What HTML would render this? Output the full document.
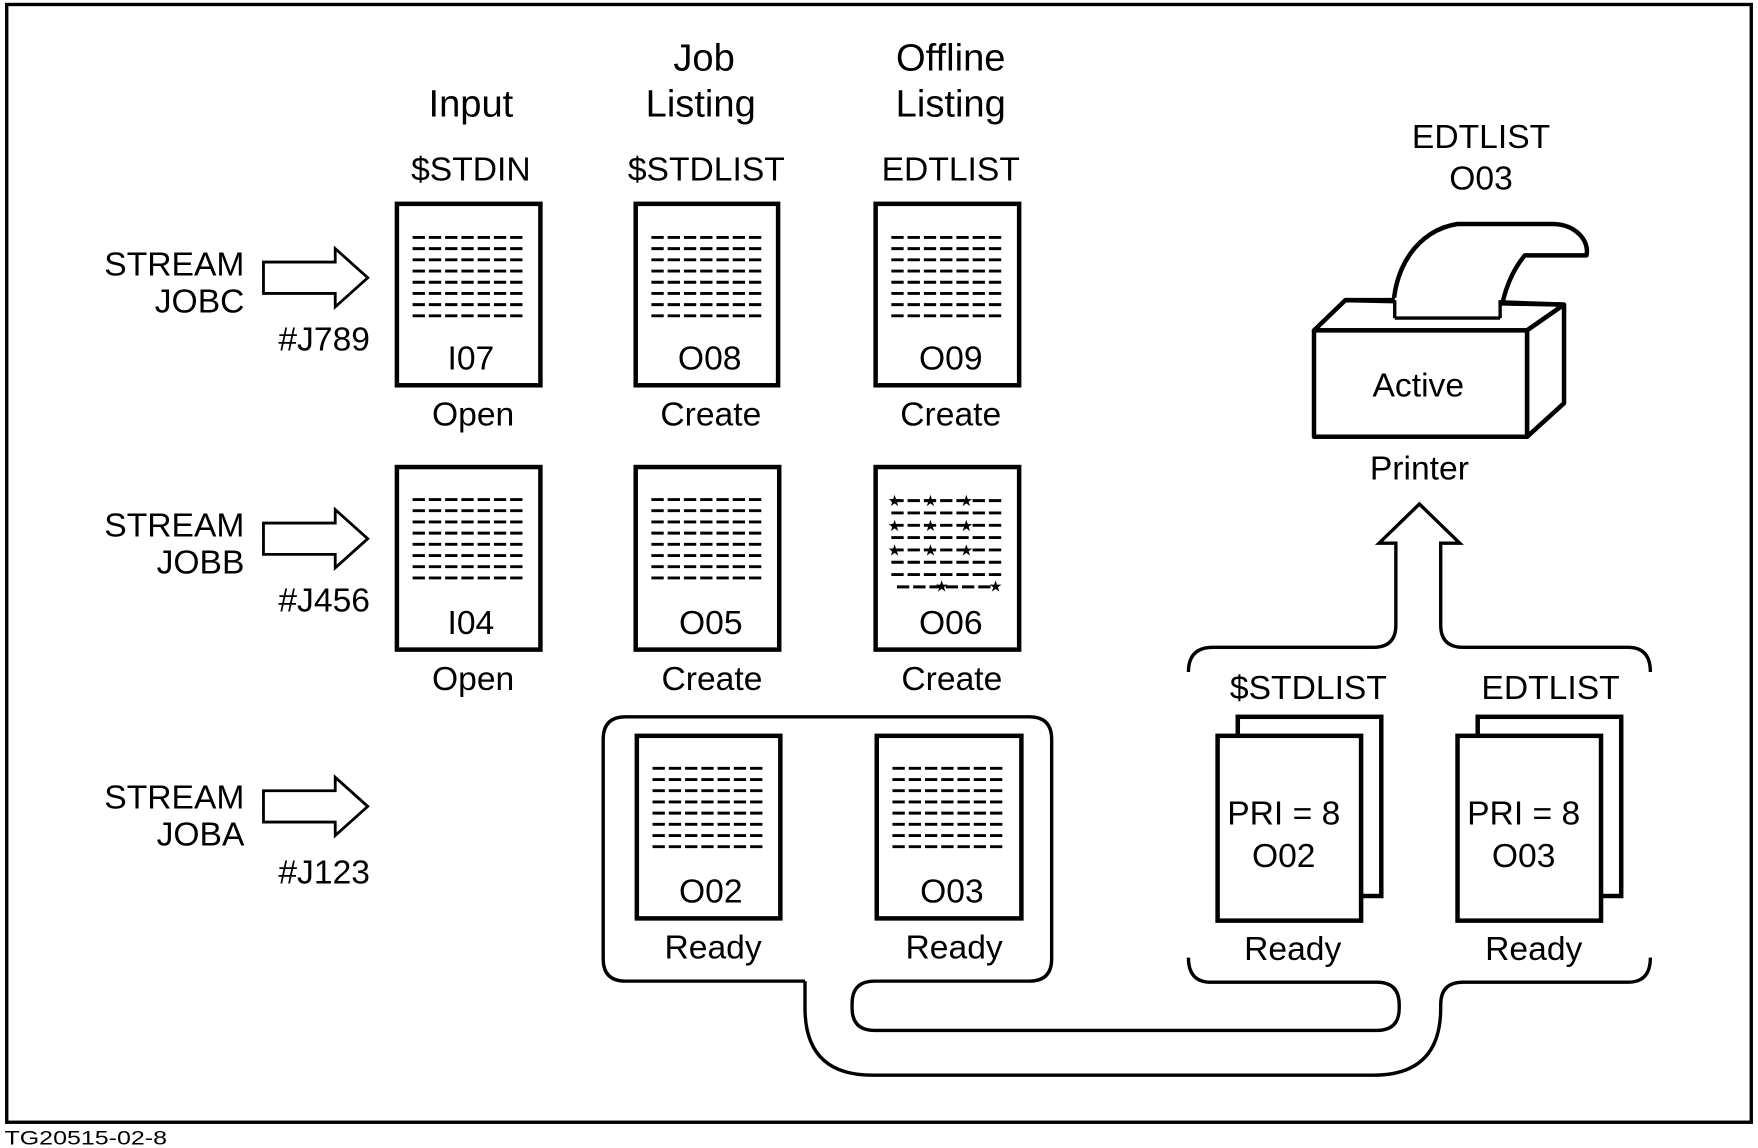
<!DOCTYPE html>
<html><head><meta charset="utf-8"><style>
html,body{margin:0;padding:0;background:#fff;}
svg{display:block;}
text{font-family:"Liberation Sans",Arial,sans-serif;fill:#000;}
</style></head><body>
<svg width="1758" height="1148" viewBox="0 0 1568 1025" preserveAspectRatio="none" xmlns="http://www.w3.org/2000/svg">
<defs>
<g id="lines" stroke="#000" stroke-width="2.6" stroke-dasharray="11,3.5">
<line x1="14" y1="30" x2="114" y2="30"/><line x1="14" y1="40" x2="114" y2="40"/>
<line x1="14" y1="50" x2="114" y2="50"/><line x1="14" y1="60" x2="114" y2="60"/>
<line x1="14" y1="70" x2="114" y2="70"/><line x1="14" y1="80" x2="114" y2="80"/>
<line x1="14" y1="90" x2="114" y2="90"/><line x1="14" y1="100" x2="114" y2="100"/>
</g>
<path id="rarrow" d="M0,-14 H64 V-26 L93,0 L64,26 V14 H0 Z" fill="#fff" stroke="#000" stroke-width="2.5"/>
</defs>
<rect x="6" y="4" width="1556" height="998" fill="none" stroke="#000" stroke-width="3"/>
<text x="4" y="1022" font-size="17" textLength="145" lengthAdjust="spacingAndGlyphs">TG20515-02-8</text>

<g font-size="34" text-anchor="middle">
<text x="420" y="104">Input</text>
<text x="628" y="63">Job</text><text x="625" y="104">Listing</text>
<text x="848" y="63">Offline</text><text x="848" y="104">Listing</text>
</g>
<g font-size="30" text-anchor="middle">
<text x="420" y="161">$STDIN</text>
<text x="630" y="161">$STDLIST</text>
<text x="848" y="161">EDTLIST</text>
<text x="1321" y="132">EDTLIST</text>
<text x="1321" y="169">O03</text>
</g>

<g font-size="30" text-anchor="end">
<text x="218" y="246">STREAM</text><text x="218" y="279">JOBC</text><text x="330" y="313">#J789</text>
<text x="218" y="479">STREAM</text><text x="218" y="512">JOBB</text><text x="330" y="546">#J456</text>
<text x="218" y="722">STREAM</text><text x="218" y="755">JOBA</text><text x="330" y="789">#J123</text>
</g>
<use href="#rarrow" x="235" y="248"/>
<use href="#rarrow" x="235" y="481"/>
<use href="#rarrow" x="235" y="720"/>

<g fill="#fff" stroke="#000" stroke-width="4">
<rect x="354" y="182" width="128" height="162"/>
<rect x="567" y="182" width="127" height="162"/>
<rect x="781" y="182" width="128" height="162"/>
<rect x="354" y="417" width="128" height="163"/>
<rect x="567" y="417" width="128" height="163"/>
<rect x="781" y="417" width="128" height="163"/>
<rect x="568" y="657" width="128" height="163"/>
<rect x="782" y="657" width="129" height="163"/>
</g>
<use href="#lines" x="354" y="182"/><use href="#lines" x="567" y="182"/><use href="#lines" x="781" y="182"/>
<use href="#lines" x="354" y="416"/><use href="#lines" x="567" y="416"/>
<use href="#lines" x="568" y="656"/><use href="#lines" x="782" y="656"/>
<g stroke="#000" stroke-width="2.6" stroke-dasharray="11,3.5">
<line x1="795" y1="447" x2="895" y2="447"/><line x1="795" y1="458" x2="895" y2="458"/>
<line x1="795" y1="469" x2="895" y2="469"/><line x1="795" y1="480" x2="895" y2="480"/>
<line x1="795" y1="491" x2="895" y2="491"/><line x1="795" y1="502" x2="895" y2="502"/>
<line x1="795" y1="513" x2="895" y2="513"/><line x1="800" y1="524" x2="890" y2="524"/>
</g>
<g font-size="14" text-anchor="middle">
<text x="798" y="452">★</text><text x="830" y="452">★</text><text x="862" y="452">★</text>
<text x="798" y="474">★</text><text x="830" y="474">★</text><text x="862" y="474">★</text>
<text x="798" y="496">★</text><text x="830" y="496">★</text><text x="862" y="496">★</text>
<text x="840" y="528">★</text><text x="888" y="528">★</text>
</g>
<g font-size="30" text-anchor="middle">
<text x="420" y="330">I07</text><text x="633" y="330">O08</text><text x="848" y="330">O09</text>
<text x="420" y="566">I04</text><text x="634" y="566">O05</text><text x="848" y="566">O06</text>
<text x="634" y="806">O02</text><text x="849" y="806">O03</text>
<text x="422" y="380">Open</text><text x="634" y="380">Create</text><text x="848" y="380">Create</text>
<text x="422" y="616">Open</text><text x="635" y="616">Create</text><text x="849" y="616">Create</text>
<text x="636" y="856">Ready</text><text x="851" y="856">Ready</text>
<text x="1153" y="857">Ready</text><text x="1368" y="857">Ready</text>
<text x="1167" y="624">$STDLIST</text><text x="1383" y="624">EDTLIST</text>
<text x="1266" y="428">Printer</text>
</g>

<g fill="#fff" stroke="#000" stroke-width="4">
<rect x="1104" y="640" width="128" height="160"/>
<rect x="1086" y="657" width="128" height="165"/>
<rect x="1318" y="640" width="128" height="160"/>
<rect x="1300" y="657" width="128" height="165"/>
</g>
<text x="1145" y="736" font-size="30" text-anchor="middle">PRI = 8</text><text x="1145" y="774" font-size="30" text-anchor="middle">O02</text>
<text x="1359" y="736" font-size="30" text-anchor="middle">PRI = 8</text><text x="1359" y="774" font-size="30" text-anchor="middle">O03</text>

<g fill="#fff" stroke="#000" stroke-width="4" stroke-linejoin="round">
<path d="M1243,285 C1240,240 1265,205 1300,200 L1385,200 C1405,200 1418,215 1415,228 L1360,228 C1350,240 1340,260 1338,285"/>
<path d="M1172,295 L1200,268 L1395,272 L1362,295 Z"/>
<path d="M1362,295 L1395,272 L1395,360 L1362,390 Z"/>
<rect x="1172" y="295" width="190" height="95"/>
</g>
<rect x="1244" y="266" width="94" height="18" fill="#fff"/>
<path d="M1244,268 L1244,284 M1338,268 L1338,284 M1244,284 L1338,284" stroke="#000" stroke-width="3" fill="none"/>
<path d="M1200,268 L1244,268 M1338,270 L1395,272" stroke="#000" stroke-width="4" fill="none"/>
<text x="1265" y="354" font-size="30" text-anchor="middle">Active</text>

<g fill="none" stroke="#000" stroke-width="3">
<path d="M1060,600 Q1060,578 1082,578 L1225,578 Q1245,578 1245,558 L1245,485 L1230,485 L1266,450 L1302,485 L1285,485 L1285,558 Q1285,578 1305,578 L1452,578 Q1472,578 1472,600"/>
<path d="M718,876 L558,876 Q538,876 538,856 L538,660 Q538,640 558,640 L918,640 Q938,640 938,660 L938,856 Q938,876 918,876 L780,876 Q760,876 760,896 L760,900 Q760,920 780,920 L1228,920 Q1248,920 1248,900 L1248,897 Q1248,877 1228,877 L1080,877 Q1060,877 1060,855"/>
<path d="M718,876 L718,900 Q718,960 778,960 L1225,960 Q1285,960 1285,900 L1285,897 Q1285,877 1305,877 L1452,877 Q1472,877 1472,855"/>
</g>
</svg>
</body></html>
